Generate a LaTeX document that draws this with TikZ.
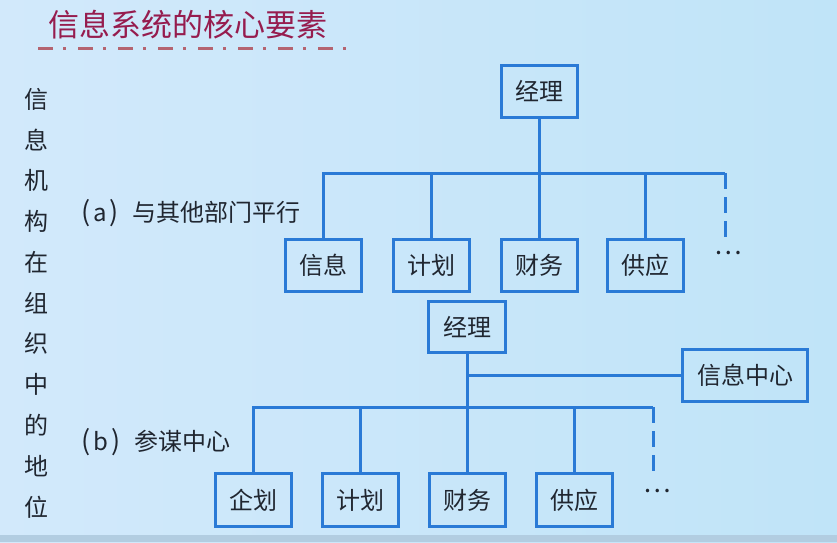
\documentclass[tikz,border=0pt]{standalone}
\usepackage{fontspec}
\newfontfamily\cjk{Noto Sans CJK SC}
\definecolor{bgL}{RGB}{210,233,251}
\definecolor{bgR}{RGB}{192,228,248}
\definecolor{bgB}{RGB}{178,205,225}
\definecolor{lineblue}{RGB}{42,122,214}
\definecolor{textc}{RGB}{32,38,48}
\definecolor{titlec}{RGB}{150,28,78}
\definecolor{dashc}{RGB}{180,100,112}
\newcommand{\bigpar}[1]{{\fontsize{27}{27}\selectfont #1}}
\tikzset{
  box/.style={draw=lineblue, line width=3pt, minimum width=76pt, minimum height=52pt,
    inner sep=0pt, text=textc, font=\cjk\fontsize{24}{24}\selectfont},
  conn/.style={draw=lineblue, line width=3pt},
  dconn/.style={draw=lineblue, line width=3pt, dash pattern=on 16pt off 8pt},
  side/.style={text=textc, font=\cjk\fontsize{24}{24}\selectfont, inner sep=0pt},
  lbl/.style={text=textc, font=\cjk\fontsize{24}{24}\selectfont, inner sep=0pt, anchor=west},
  dots/.style={text=textc, font=\cjk\fontsize{26}{26}\selectfont, inner sep=0pt}
}
\begin{document}
\begin{tikzpicture}[x=1pt,y=-1pt]
\useasboundingbox (0,0) rectangle (837,542);
\shade[left color=bgL, right color=bgR] (0,0) rectangle (837,542);
\fill[bgB] (0,535) rectangle (837,542);
% title
\node[anchor=west, inner sep=0pt, text=titlec, font=\cjk\fontsize{31}{31}\selectfont] (title) at (48,25) {信息系统的核心要素};
\coordinate (ulS) at (38,48);
\coordinate (ulE) at (352,48);
\draw[dashc, line width=3pt, dash pattern=on 15pt off 10pt on 3pt off 12pt] (ulS) -- (ulE);
% side column
\foreach \c [count=\i] in {信,息,机,构,在,组,织,中,的,地,位}
  \node[side] (s\i) at (36, 58.2+40.8*\i) {\c};
% labels
\node[lbl] (la) at (81,213) {\bigpar{(}\hspace{3pt}a\hspace{3pt}\bigpar{)}\hspace{14pt}与其他部门平行};
\node[lbl] (lb) at (81,442) {\bigpar{(}\hspace{3pt}b\hspace{3pt}\bigpar{)}\hspace{14pt}参谋中心};
% top tree
\node[box] (m1) at (539,91) {经理};
\node[box] (a1) at (323,265) {信息};
\node[box] (a2) at (431,265) {计划};
\node[box] (a3) at (539,265) {财务};
\node[box] (a4) at (645,265) {供应};
\coordinate (hA) at (539,173);
\coordinate (eA) at (725,173);
\coordinate (fA) at (725,243);
\node[dots] (dA) at (728,253) {…};
\draw[conn] (m1.south) -- (hA);
\draw[conn] (a1.north) |- (eA);
\draw[conn] (a2.north) -- (a2.north |- hA);
\draw[conn] (a3.north) -- (hA);
\draw[conn] (a4.north) -- (a4.north |- hA);
\draw[dconn] (eA) -- (fA);
% bottom tree
\node[box, minimum width=77pt, minimum height=51pt] (m2) at (467,327) {经理};
\node[box, minimum width=125pt] (ic) at (745,375) {信息中心};
\node[box, minimum height=53pt] (b1) at (253,500) {企划};
\node[box, minimum height=53pt] (b2) at (360,500) {计划};
\node[box, minimum height=53pt] (b3) at (467,500) {财务};
\node[box, minimum height=53pt] (b4) at (574,500) {供应};
\coordinate (hB) at (467,407);
\coordinate (eB) at (653,407);
\coordinate (fB) at (653,477);
\node[dots] (dB) at (657,491) {…};
\draw[conn] (m2.south) -- (hB);
\draw[conn] (m2.south |- ic.west) -- (ic.west);
\draw[conn] (b1.north) |- (eB);
\draw[conn] (b2.north) -- (b2.north |- hB);
\draw[conn] (b3.north) -- (hB);
\draw[conn] (b4.north) -- (b4.north |- hB);
\draw[dconn] (eB) -- (fB);
\end{tikzpicture}
\end{document}
